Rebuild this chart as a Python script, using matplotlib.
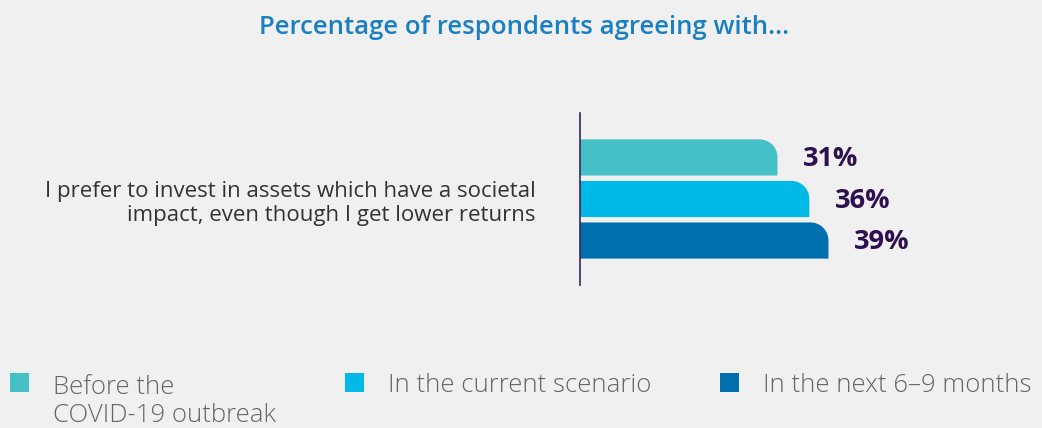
import numpy as np
import matplotlib.pyplot as plt
from matplotlib.path import Path
from matplotlib.patches import PathPatch, Rectangle

# ======================
# DATA
# ======================
title = "Percentage of respondents agreeing with..."
statement = "I prefer to invest in assets which have a societal\nimpact, even though I get lower returns"
series = ["Before the\nCOVID-19 outbreak", "In the current scenario", "In the next 6–9 months"]
values = [31, 36, 39]
colors = ["#45c0c6", "#00b9e6", "#006fad"]

bg = "#f0f0f0"
plt.rcParams["font.family"] = ["Open Sans", "DejaVu Sans"]


def rounded_bar(ax, x0, yc, w, h, rx, ry, color):
    # bar with only the top-right corner rounded
    k = 0.5523
    y0, y1 = yc - h / 2, yc + h / 2
    x1 = x0 + w
    verts = [(x0, y0), (x1, y0), (x1, y1 - ry),
             (x1, y1 - ry + k * ry), (x1 - rx + k * rx, y1), (x1 - rx, y1),
             (x0, y1), (x0, y0)]
    codes = [Path.MOVETO, Path.LINETO, Path.LINETO,
             Path.CURVE4, Path.CURVE4, Path.CURVE4,
             Path.LINETO, Path.CLOSEPOLY]
    ax.add_patch(PathPatch(Path(verts, codes), facecolor=color, edgecolor="none"))


# ======================
# FIGURE
# ======================
fig = plt.figure(figsize=(10.42, 4.28), dpi=100, facecolor=bg)
ax = fig.add_axes([580 / 1042, 143 / 428, 420 / 1042, 172 / 428], facecolor=bg)

ypos = [2, 1, 0]
bar_h = 0.87
for v, y, c in zip(values, ypos, colors):
    rounded_bar(ax, 0, y, v, bar_h, 2.8, 0.43, c)
    ax.text(v + 4.0, y - 0.04, f"{v}%", ha="left", va="center",
            fontsize=19.5, fontweight="bold", color="#2e0f4f")

ax.set_xlim(0, 420 / 6.37)
ax.set_ylim(1 - 2.07, 1 + 2.07)

for s in ["top", "right", "bottom"]:
    ax.spines[s].set_visible(False)
ax.spines["left"].set_color("#3b2560")
ax.spines["left"].set_linewidth(1.2)
ax.set_xticks([])
ax.set_yticks([1])
ax.set_yticklabels([statement], fontsize=16, color="#333333", linespacing=1.2)
ax.tick_params(axis="y", length=0, pad=32)

fig.text(0.503, 0.935, title, ha="center", va="center",
         fontsize=18.5, fontweight="semibold", color="#1a7fc1")

# ======================
# LEGEND
# ======================
leg_x = [10, 345, 720]
for lx, lab, c in zip(leg_x, series, colors):
    fig.patches.append(Rectangle((lx / 1042, 1 - 392 / 428), 19 / 1042, 19 / 428,
                                 transform=fig.transFigure, facecolor=c, edgecolor="none"))
    # baseline of the last line; first line sits at 392px from top
    base = 392 + 30 * lab.count("\n")
    fig.text((lx + 43) / 1042, 1 - base / 428, lab, ha="left", va="baseline",
             fontsize=18.5, fontweight="light", color="#666666", linespacing=1.18)

plt.savefig("out.png", dpi=100, facecolor=bg)
